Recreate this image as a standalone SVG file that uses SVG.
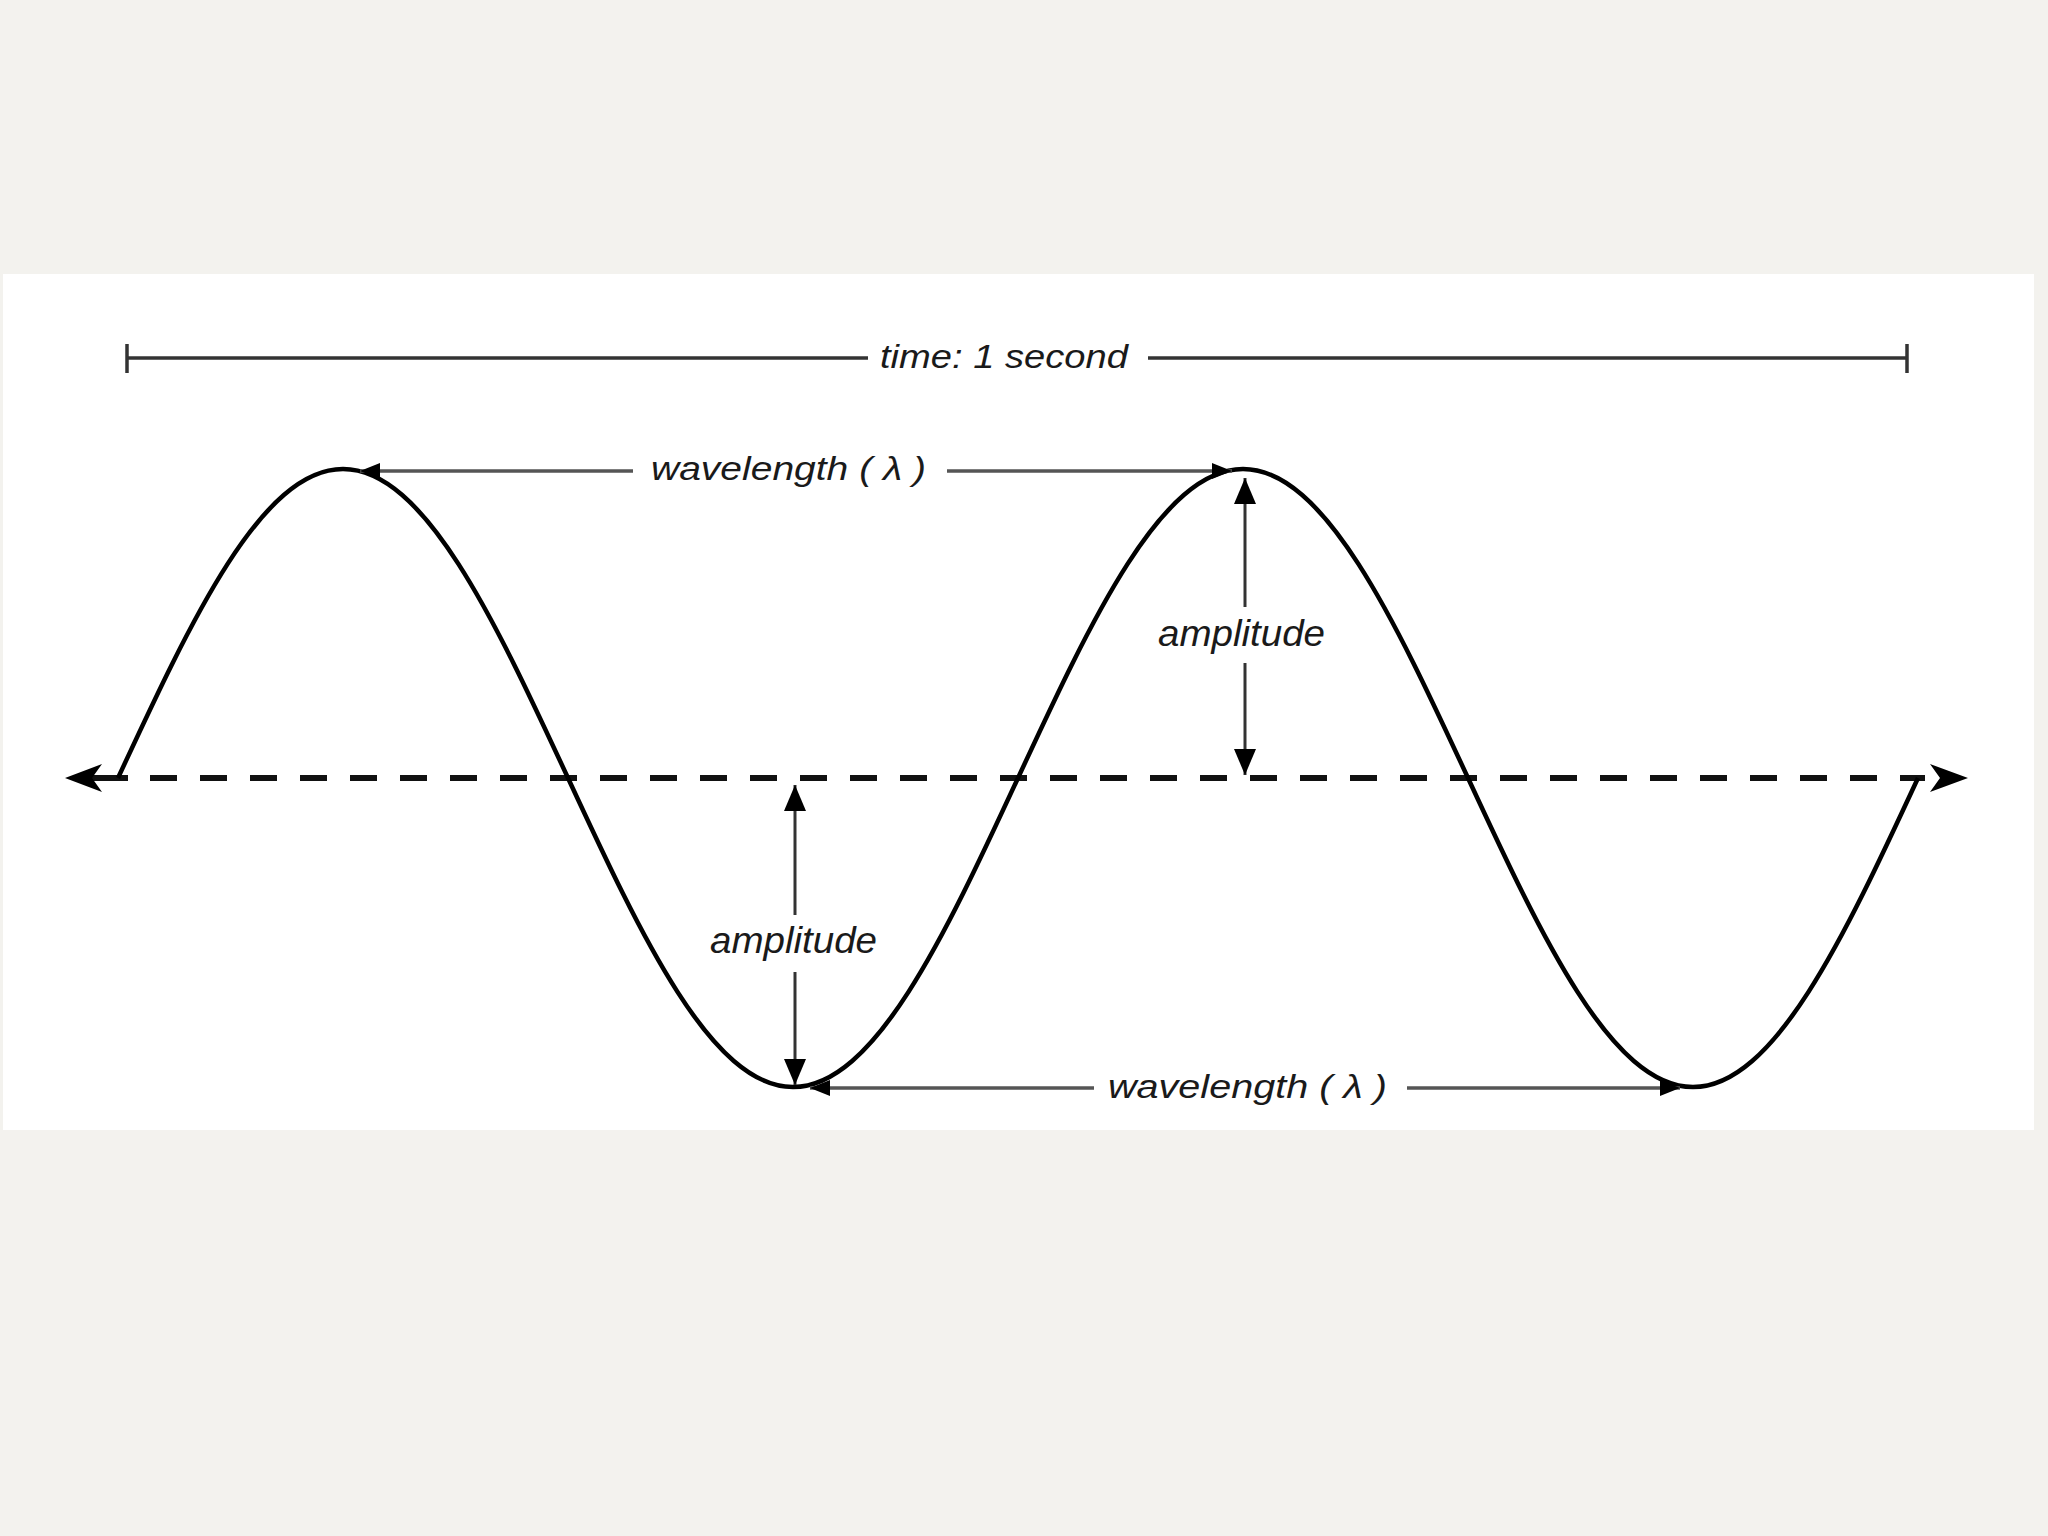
<svg xmlns="http://www.w3.org/2000/svg" width="2048" height="1536" viewBox="0 0 2048 1536">
  <defs>
    <style>
      .lbl { font-family: "Liberation Sans", "DejaVu Sans", sans-serif; font-style: italic; fill: #1a1a1a; }
      .dim { stroke: #555; stroke-width: 3.5; fill: none; }
      .amp { stroke: #333; stroke-width: 3; fill: none; }
      .tl { stroke: #333; stroke-width: 3.5; fill: none; }
    </style>
    <marker id="wl" viewBox="0 0 20 16" refX="20" refY="8" markerWidth="20" markerHeight="16" markerUnits="userSpaceOnUse" orient="auto-start-reverse">
      <path d="M0,0 L20,8 L0,16 z" fill="#000"/>
    </marker>
    <marker id="am" viewBox="0 0 26 22" refX="26" refY="11" markerWidth="26" markerHeight="22" markerUnits="userSpaceOnUse" orient="auto-start-reverse">
      <path d="M0,0 L26,11 L0,22 z" fill="#000"/>
    </marker>
  </defs>
  <rect x="0" y="0" width="2048" height="1536" fill="#f3f2ee"/>
  <rect x="3" y="274" width="2031" height="856" fill="#ffffff"/>

  <g id="time-span">
    <line class="tl" x1="127" y1="358" x2="868" y2="358"/>
    <line class="tl" x1="1148" y1="358" x2="1907" y2="358"/>
    <line class="tl" x1="127" y1="344" x2="127" y2="373" stroke-width="4"/>
    <line class="tl" x1="1907" y1="344" x2="1907" y2="373" stroke-width="4"/>
    <text class="lbl" x="880" y="368" font-size="34" textLength="248" lengthAdjust="spacingAndGlyphs">time: 1 second</text>
  </g>

  <g id="axis">
    <line x1="150" y1="778" x2="1925" y2="778" stroke="#111" stroke-width="6" stroke-dasharray="27 23"/>
    <line x1="80" y1="778" x2="128" y2="778" stroke="#111" stroke-width="6"/>
    <path d="M65,778 L102,764 L92,778 L102,792 z" fill="#000"/>
    <path d="M1968,778 L1930,764 L1940,778 L1930,792 z" fill="#000"/>
  </g>

  <g id="wave">
    <path d="M118,778 c73.38,-158.3 143.57,-309 225,-309 c81.43,0 151.62,150.7 225,309 c73.38,158.3 143.57,309 225,309 c81.43,0 151.62,-150.7 225,-309 c73.38,-158.3 143.57,-309 225,-309 c81.43,0 151.62,150.7 225,309 c73.38,158.3 143.57,309 225,309 c81.43,0 151.62,-150.7 225,-309" fill="none" stroke="#000" stroke-width="4.5"/>
  </g>

  <g id="connectors">
    <line class="dim" x1="633" y1="471" x2="360" y2="471" marker-end="url(#wl)"/>
    <line class="dim" x1="947" y1="471" x2="1232" y2="471" marker-end="url(#wl)"/>
    <line class="dim" x1="1094" y1="1088" x2="810" y2="1088" marker-end="url(#wl)"/>
    <line class="dim" x1="1407" y1="1088" x2="1680" y2="1088" marker-end="url(#wl)"/>
    <line class="amp" x1="1245" y1="607" x2="1245" y2="478" marker-end="url(#am)"/>
    <line class="amp" x1="1245" y1="663" x2="1245" y2="775" marker-end="url(#am)"/>
    <line class="amp" x1="795" y1="915" x2="795" y2="785" marker-end="url(#am)"/>
    <line class="amp" x1="795" y1="972" x2="795" y2="1085" marker-end="url(#am)"/>
  </g>

  <g id="label-wavelength-top">
    <text class="lbl" x="651" y="480" font-size="34" textLength="275" lengthAdjust="spacingAndGlyphs">wavelength ( λ )</text>
  </g>
  <g id="label-wavelength-bottom">
    <text class="lbl" x="1108" y="1098" font-size="34" textLength="279" lengthAdjust="spacingAndGlyphs">wavelength ( λ )</text>
  </g>
  <g id="label-amplitude-top">
    <text class="lbl" x="1158" y="646" font-size="36" textLength="167" lengthAdjust="spacingAndGlyphs">amplitude</text>
  </g>
  <g id="label-amplitude-bottom">
    <text class="lbl" x="710" y="953" font-size="36" textLength="167" lengthAdjust="spacingAndGlyphs">amplitude</text>
  </g>
</svg>
